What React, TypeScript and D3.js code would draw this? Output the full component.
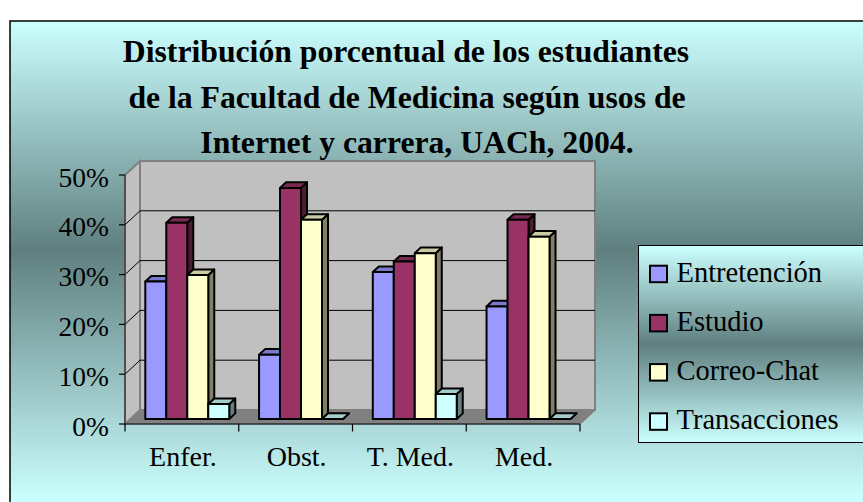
import React from "react";
import * as d3 from "d3";

const categories = ["Enfer.", "Obst.", "T. Med.", "Med."];
const series = ["Entretención", "Estudio", "Correo-Chat", "Transacciones"];
const entretencion = [27.6, 12.9, 29.5, 22.6];
const estudio = [39.4, 46.4, 31.6, 40.0];
const correoChat = [28.9, 40.0, 33.3, 36.6];
const transacciones = [3.0, 0, 5.0, 0];
const yTicks = [0, 10, 20, 30, 40, 50];
const titleLines = [
  "Distribución porcentual de los estudiantes",
  "de la Facultad de Medicina según usos de",
  "Internet y carrera, UACh, 2004.",
];

const values = [entretencion, estudio, correoChat, transacciones];
const front = ["#9999FF", "#993366", "#FFFFCC", "#CCFFFF"];

const serif = "'Liberation Serif', 'Times New Roman', serif";

// 3d depth of the plot box
const DX = 15;
const DY = -14;

function shade(c: string, k: number) {
  const col = d3.rgb(c);
  return d3.rgb(col.r * k, col.g * k, col.b * k).formatHex();
}

export default function App() {
  const x0 = d3.scaleBand<string>().domain(categories).range([125, 580]);
  const x1 = d3
    .scaleBand<string>()
    .domain(series)
    .range([14.9, x0.bandwidth() - 14.9]);
  const y = d3.scaleLinear().domain([0, 50]).range([424, 175]);

  // bars sit between these depth fractions
  const tFront = 0.36;
  const tBack = 0.76;
  const bw = x1.bandwidth();

  const bars: React.ReactNode[] = [];
  categories.forEach((cat, ci) => {
    series.forEach((s, si) => {
      const v = values[si][ci];
      const xl = (x0(cat) as number) + (x1(s) as number) + DX * tFront;
      const xr = xl + bw;
      const yb = y(0) + DY * tFront;
      const yt = y(v) + DY * tFront;
      const ox = DX * (tBack - tFront);
      const oy = DY * (tBack - tFront);
      const col = front[si];
      bars.push(
        <g key={cat + s}>
          <polygon
            points={`${xr},${yb} ${xr},${yt} ${xr + ox},${yt + oy} ${xr + ox},${yb + oy}`}
            fill={shade(col, 0.5)}
            stroke="#000"
            strokeWidth={2}
            strokeLinejoin="round"
          />
          <polygon
            points={`${xl},${yt} ${xr},${yt} ${xr + ox},${yt + oy} ${xl + ox},${yt + oy}`}
            fill={shade(col, 0.8)}
            stroke="#000"
            strokeWidth={2}
            strokeLinejoin="round"
          />
          <rect
            x={xl}
            y={yt}
            width={bw}
            height={yb - yt}
            fill={col}
            stroke="#000"
            strokeWidth={2}
            strokeLinejoin="round"
          />
        </g>
      );
    });
  });

  const catTicks = [...categories.map((c) => x0(c) as number), 580];

  return (
    <svg
      width={863}
      height={502}
      style={{ position: "absolute", left: 0, top: 0, background: "#fff" }}
    >
      <defs>
        <linearGradient id="bg" gradientUnits="userSpaceOnUse" x1={0} y1={21} x2={0} y2={502}>
          <stop offset="0" stopColor="#CCFFFF" />
          <stop offset="0.476" stopColor="#5F7F7F" />
          <stop offset="1" stopColor="#CCFFFF" />
        </linearGradient>
        <linearGradient id="lg" gradientUnits="userSpaceOnUse" x1={0} y1={246} x2={0} y2={443}>
          <stop offset="0" stopColor="#CCFFFF" />
          <stop offset="0.5" stopColor="#5F7F7F" />
          <stop offset="1" stopColor="#CCFFFF" />
        </linearGradient>
      </defs>
      <rect x={10} y={21} width={870} height={500} fill="url(#bg)" stroke="#000" strokeWidth={1.5} />

      {titleLines.map((t, i) => (
        <text
          key={t}
          x={[406, 407, 417][i]}
          y={61.7 + i * 45.8}
          textAnchor="middle"
          fontFamily={serif}
          fontWeight="bold"
          fontSize={31.7}
          fill="#000"
        >
          {t}
        </text>
      ))}

      {/* walls and floor */}
      <polygon
        points={`125,${y(0)} 125,${y(50)} ${125 + DX},${y(50) + DY} ${125 + DX},${y(0) + DY}`}
        fill="#C0C0C0"
        stroke="#808080"
        strokeWidth={2}
      />
      <rect
        x={125 + DX}
        y={y(50) + DY}
        width={580 - 125}
        height={y(0) - y(50)}
        fill="#C0C0C0"
        stroke="#808080"
        strokeWidth={2}
      />
      <polygon
        points={`125,${y(0)} 580,${y(0)} ${580 + DX},${y(0) + DY} ${125 + DX},${y(0) + DY}`}
        fill="#808080"
        stroke="#808080"
        strokeWidth={1}
      />
      {yTicks
        .filter((v) => v > 0 && v < 50)
        .map((v) => (
          <g key={v}>
            <line x1={125} y1={y(v)} x2={125 + DX} y2={y(v) + DY} stroke="#000" strokeWidth={1} />
            <line
              x1={125 + DX}
              y1={y(v) + DY}
              x2={580 + DX}
              y2={y(v) + DY}
              stroke="#000"
              strokeWidth={1}
            />
          </g>
        ))}

      {bars}

      {/* axes */}
      <line x1={125} y1={y(0)} x2={580} y2={y(0)} stroke="#000" strokeWidth={1.2} />
      <line x1={580} y1={y(0)} x2={580 + DX} y2={y(0) + DY} stroke="#808080" strokeWidth={1.2} />
      <line x1={125} y1={y(0)} x2={125} y2={y(50)} stroke="#404040" strokeWidth={1.5} />
      {yTicks.map((v) => (
        <g key={v}>
          <line x1={119} y1={y(v)} x2={125} y2={y(v)} stroke="#000" strokeWidth={1.2} />
          <text
            x={109}
            y={y(v) + 11.5}
            textAnchor="end"
            fontFamily={serif}
            fontSize={27.5}
            fill="#000"
          >
            {v}%
          </text>
        </g>
      ))}
      {catTicks.map((xv, i) => (
        <line key={i} x1={xv} y1={y(0)} x2={xv} y2={y(0) + 7.5} stroke="#000" strokeWidth={1.2} />
      ))}
      {categories.map((c) => (
        <text
          key={c}
          x={(x0(c) as number) + x0.bandwidth() / 2 + 1}
          y={465.7}
          textAnchor="middle"
          fontFamily={serif}
          fontSize={28}
          fill="#000"
        >
          {c}
        </text>
      ))}

      {/* legend */}
      <rect x={638.5} y={245.5} width={240} height={197} fill="url(#lg)" stroke="#000" strokeWidth={1} />
      {series.map((s, i) => {
        const ly = 265.7 + i * 49.2;
        return (
          <g key={s}>
            <rect x={650} y={ly} width={17} height={16.5} fill={front[i]} stroke="#000" strokeWidth={2} />
            <text x={676.5} y={ly + 16} fontFamily={serif} fontSize={28.5} fill="#000">
              {s}
            </text>
          </g>
        );
      })}
    </svg>
  );
}
